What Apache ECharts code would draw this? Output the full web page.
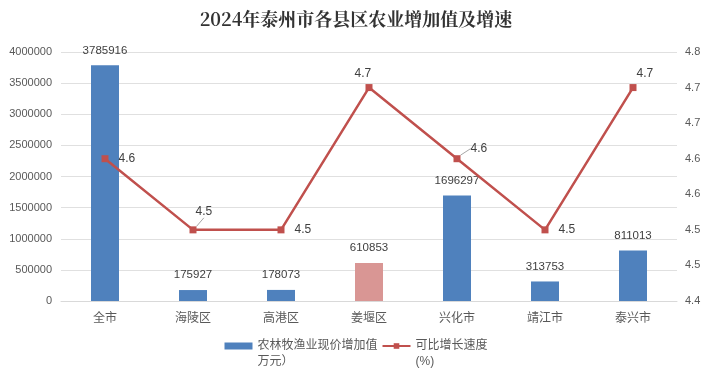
<!DOCTYPE html>
<html><head><meta charset="utf-8">
<script src="https://cdn.jsdelivr.net/npm/echarts@6/dist/echarts.min.js"></script>
<style>html,body{margin:0;padding:0;background:#fff}#c{width:712px;height:379px}</style>
</head><body><div id="c"></div>
<script>
var categories = ['全市','海陵区','高港区','姜堰区','兴化市','靖江市','泰兴市'];
var valueAdded = [3785916, 175927, 178073, 610853, 1696297, 313753, 811013];
var growth = [4.6, 4.5, 4.5, 4.7, 4.6, 4.5, 4.7];
var leftTicks = [0, 4000000, 500000];
var rightTicks = [4.4, 4.75, 0.05];

var barColor = '#4F81BD', pinkColor = '#D99694', lineColor = '#C0504D';
var labelShift = [
  {dx:0, dy:0},
  {dx:-11, dy:-18, line:true},
  {dx:0, dy:0},
  {dx:-28, dy:-14},
  {dx:0, dy:-10, line:true},
  {dx:0, dy:0},
  {dx:-10, dy:-14}
];
var chart = echarts.init(document.getElementById('c'));
var font = '"Liberation Sans", "Noto Sans CJK SC", sans-serif';
function r1(v){ return (Math.round(v*10 + 1e-6)/10).toFixed(1); }
chart.setOption({
  animation:false,
  title:{text:'2024年泰州市各县区农业增加值及增速', left:'center', top:5,
    textStyle:{fontSize:18, fontWeight:'bold', color:'#333333', fontFamily:'"Noto Serif CJK SC","Noto Sans CJK SC",serif'}},
  grid:{left:61, right:35, top:52, bottom:78},
  legend:{top:317, left:'center', itemGap:4, itemWidth:28, itemHeight:7,
    formatter:function(n){ return ' \n' + n; },
    textStyle:{fontSize:12, color:'#595959', fontFamily:font, lineHeight:16},
    data:[{name:'农林牧渔业现价增加值\n万元）', icon:'rect'}, {name:'可比增长速度\n(%)'}]},
  xAxis:{type:'category', data:categories,
    axisLine:{lineStyle:{color:'#D9D9D9'}}, axisTick:{show:false},
    axisLabel:{color:'#595959', fontSize:12, margin:12, fontFamily:font}},
  yAxis:[
    {type:'value', min:leftTicks[0], max:leftTicks[1], interval:leftTicks[2],
      axisLabel:{color:'#595959', fontSize:11, fontFamily:font, margin:9, formatter:function(v){return String(v);}},
      splitLine:{lineStyle:{color:'#E0E0E0'}}, axisLine:{show:false}, axisTick:{show:false}},
    {type:'value', min:rightTicks[0], max:rightTicks[1], interval:rightTicks[2],
      axisLabel:{color:'#595959', fontSize:11, fontFamily:font, margin:8, formatter:r1},
      splitLine:{show:false}, axisLine:{show:false}, axisTick:{show:false}}
  ],
  series:[
    {name:'农林牧渔业现价增加值\n万元）', type:'bar', barWidth:28, yAxisIndex:0,
      itemStyle:{color:barColor},
      data: valueAdded.map(function(v,i){return {value:v, itemStyle:{color: i===3?pinkColor:barColor}};}),
      label:{show:true, position:'top', color:'#404040', fontSize:11.5, fontFamily:font, distance:9}},
    {name:'可比增长速度\n(%)', type:'line', yAxisIndex:1, symbol:'rect', symbolSize:7, z:5,
      lineStyle:{color:lineColor, width:2.5}, itemStyle:{color:lineColor},
      data: growth.map(function(v,i){
        return {value:v, labelLine:{show:!!labelShift[i].line, lineStyle:{color:'#A6A6A6', width:1}}};
      }),
      label:{show:true, position:'right', distance:10, color:'#404040', fontSize:12, fontFamily:font,
        formatter:function(p){return r1(p.value);}},
      labelLine:{show:false, smooth:false, length2:0},
      labelLayout:function(p){ var s = labelShift[p.dataIndex]; return {dx:s.dx, dy:s.dy}; }}
  ]
});
</script></body></html>
